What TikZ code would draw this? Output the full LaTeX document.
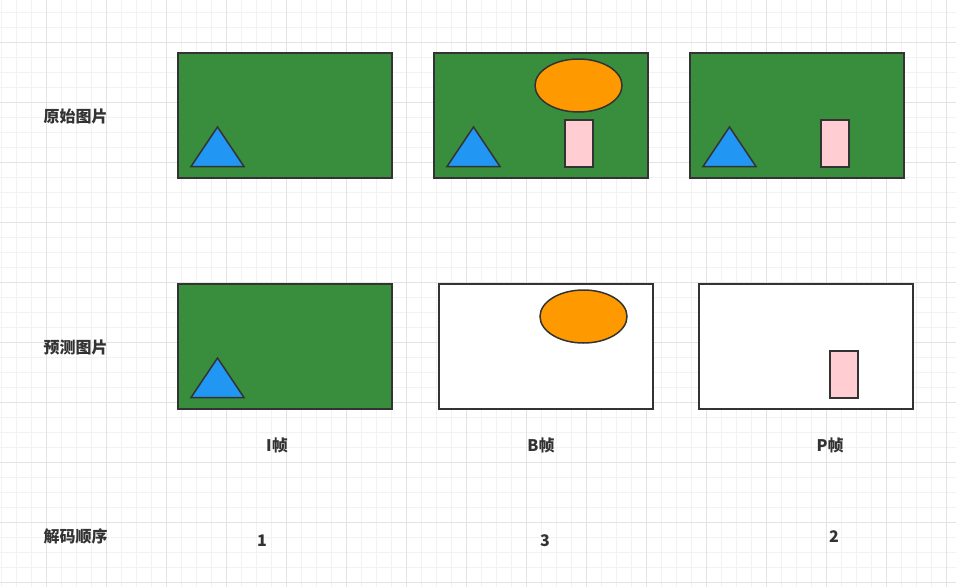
\documentclass[tikz,border=0pt]{standalone}
\usepackage{fontspec}
\setmainfont{Noto Sans CJK SC}
\usepackage{tikz}
\usetikzlibrary{positioning, shapes.geometric}
\definecolor{gridminor}{HTML}{F2F2F2}
\definecolor{gridmajor}{HTML}{E3E3E3}
\definecolor{strokegray}{HTML}{333333}
\definecolor{picgreen}{HTML}{388E3C}
\definecolor{triblue}{HTML}{2196F3}
\definecolor{ballorange}{HTML}{FF9900}
\definecolor{boxpink}{HTML}{FFCDD2}

\tikzset{
  frame/.style={draw=strokegray, line width=1.5pt, inner sep=0pt,
                minimum width=214pt, minimum height=125pt},
  ball/.style={ellipse, draw=strokegray, fill=ballorange, line width=1.5pt,
               inner sep=0pt, minimum width=87pt, minimum height=53pt},
  pinkbox/.style={draw=strokegray, fill=boxpink, line width=1.5pt, inner sep=0pt,
                  minimum width=28pt, minimum height=47pt},
  tri/.style={draw=strokegray, fill=triblue, line width=1.5pt, line join=miter},
  label/.style={text=strokegray, font=\bfseries\fontsize{16}{19}\selectfont}
}

\begin{document}
\begin{tikzpicture}[x=1pt, y=-1pt]
  \useasboundingbox (0,0) rectangle (956,587);
  % grid
  \foreach \gx in {0,...,63}
    \draw[gridminor, line width=1pt] (1.7+15*\gx,0) -- (1.7+15*\gx,587);
  \foreach \gy in {0,...,38}
    \draw[gridminor, line width=1pt] (0,12.7+15*\gy) -- (956,12.7+15*\gy);
  \foreach \gx in {0,...,15}
    \draw[gridmajor, line width=1pt] (46.7+60*\gx,0) -- (46.7+60*\gx,587);
  \foreach \gy in {0,...,9}
    \draw[gridmajor, line width=1pt] (0,42.7+60*\gy) -- (956,42.7+60*\gy);

  % original pictures
  \node[frame, fill=picgreen] (origI) at (285,115.5) {};
  \node[frame, fill=picgreen] (origB) at (541,115.5) {};
  \node[frame, fill=picgreen] (origP) at (797,115.5) {};
  \node[ball] (origBball) at (578.5,85.5) {};
  \node[pinkbox] (origBbox) at (579,143.5) {};
  \node[pinkbox] (origPbox) at (835,143.5) {};
  \foreach \tx in {191,447,703}
    \draw[tri] (\tx,166.5) -- (\tx+26.5,127) -- (\tx+53,166.5) -- cycle;

  % predicted pictures
  \node[frame, fill=picgreen] (predI) at (285,346.5) {};
  \node[frame, fill=white] (predB) at (546,346.5) {};
  \node[frame, fill=white] (predP) at (806,346.5) {};
  \draw[tri] (191,397.5) -- (217.5,358) -- (244,397.5) -- cycle;
  \node[ball] (predBball) at (583.5,316.5) {};
  \node[pinkbox] (predPbox) at (844,374.5) {};

  % labels
  \node[label] (rowOrig) at (75.5,116.5) {原始图片};
  \node[label] (rowPred) at (75.5,347.5) {预测图片};
  \node[label] (rowOrder) at (75.5,536.5) {解码顺序};
  \node[label] (nameI) at (277,445.5) {I帧};
  \node[label] (nameB) at (541,445.5) {B帧};
  \node[label] (nameP) at (830,445.5) {P帧};
  \node[label] (orderI) at (262,540.5) {1};
  \node[label] (orderB) at (545,540.5) {3};
  \node[label] (orderP) at (834,536.5) {2};
\end{tikzpicture}
\end{document}
